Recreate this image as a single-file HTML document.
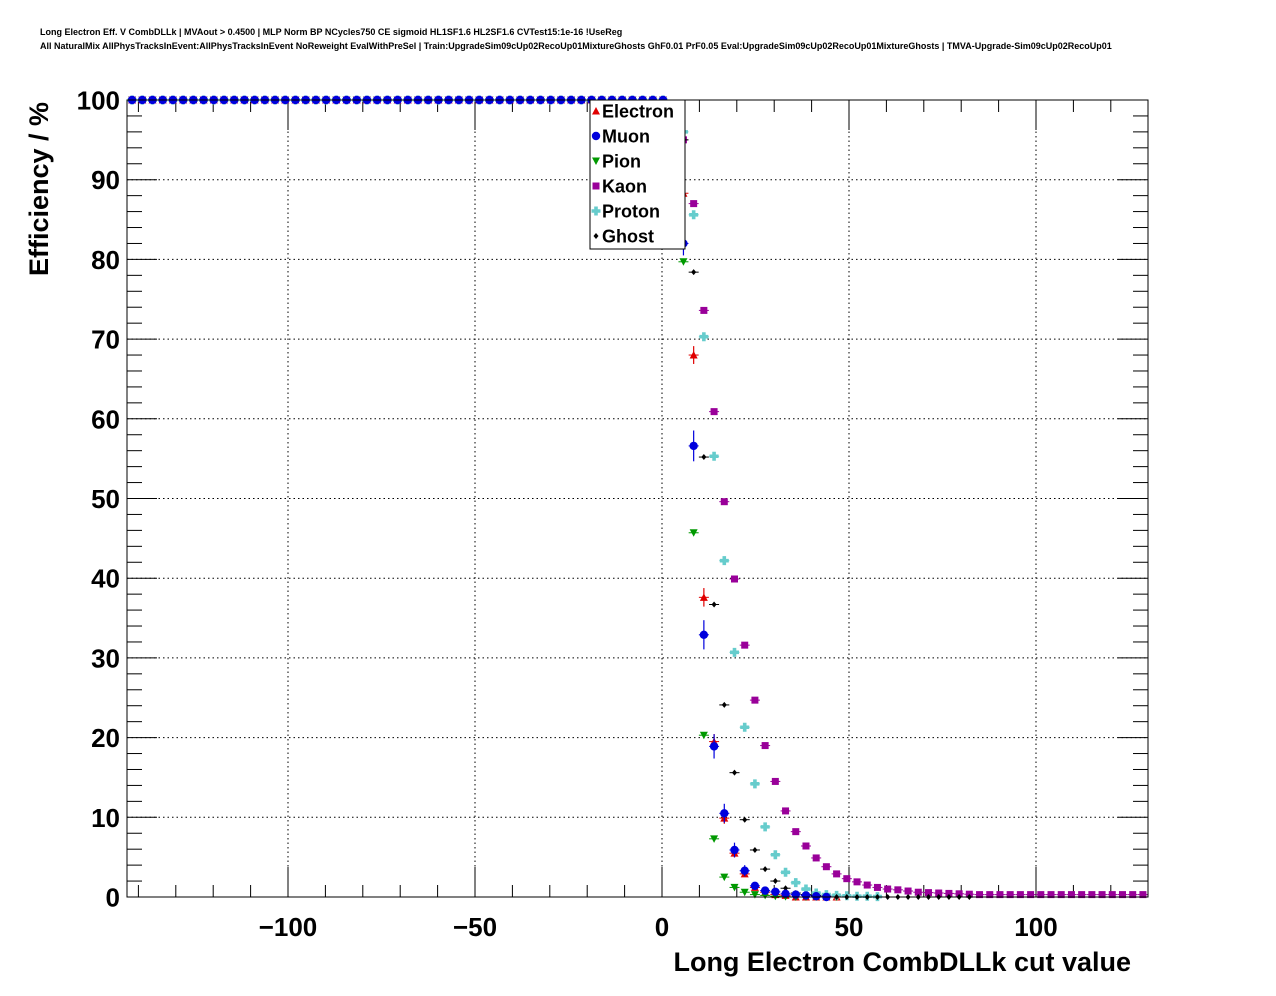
<!DOCTYPE html>
<html><head><meta charset="utf-8"><style>
html,body{margin:0;padding:0;background:#fff;}
svg{display:block;font-family:"Liberation Sans",Arial,sans-serif;}
</style></head><body>
<svg id="chart" width="1276" height="996" viewBox="0 0 1276 996">
<text x="40" y="35" font-size="9" font-weight="bold">Long Electron Eff. V CombDLLk | MVAout &gt; 0.4500 | MLP Norm BP NCycles750 CE sigmoid HL1SF1.6 HL2SF1.6 CVTest15:1e-16 !UseReg</text>
<text x="40" y="49" font-size="9" font-weight="bold">All NaturalMix AllPhysTracksInEvent:AllPhysTracksInEvent NoReweight EvalWithPreSel | Train:UpgradeSim09cUp02RecoUp01MixtureGhosts GhF0.01 PrF0.05 Eval:UpgradeSim09cUp02RecoUp01MixtureGhosts | TMVA-Upgrade-Sim09cUp02RecoUp01</text>
<rect x="127" y="100" width="1021" height="797" fill="#fff" stroke="none"/>
<g id="grid"></g>
<g id="axes"></g>
<g id="marks"></g>
<rect x="127" y="100" width="1021" height="797" fill="none" stroke="#000" stroke-width="1"/>
<text x="1131" y="971" font-size="27" font-weight="bold" text-anchor="end">Long Electron CombDLLk cut value</text>
<text transform="translate(48,189) rotate(-90)" font-size="27" font-weight="bold" text-anchor="middle">Efficiency / %</text>
<g id="legend"></g>
</svg>
<script>
// ---- data ----
var seriesNames = ["Electron","Muon","Pion","Kaon","Proton","Ghost"];
var binMin = -143.05, binWidth = 2.73;
var electronVals = [100,100,100,100,100,100,100,100,100,100,100,100,100,100,100,100,100,100,100,100,100,100,100,100,100,100,100,100,100,100,100,100,100,100,100,100,100,100,100,100,100,100,100,100,100,100,100,100,100,100,100,100,100,
 99.5,88.3,68.0,37.6,19.5,9.9,5.5,2.9,1.2,0.6,0.3,0.2,0,0,0,0,0];
var muonVals = [100,100,100,100,100,100,100,100,100,100,100,100,100,100,100,100,100,100,100,100,100,100,100,100,100,100,100,100,100,100,100,100,100,100,100,100,100,100,100,100,100,100,100,100,100,100,100,100,100,100,100,100,100,
 99.5,82,56.6,32.9,18.9,10.5,5.9,3.3,1.4,0.8,0.65,0.4,0.3,0.2,0.1,0];
var pionVals = [100,100,100,100,100,100,100,100,100,100,100,100,100,100,100,100,100,100,100,100,100,100,100,100,100,100,100,100,100,100,100,100,100,100,100,100,100,100,100,100,100,100,100,100,100,100,100,100,100,100,100,100,100,
 96,79.7,45.7,20.3,7.3,2.5,1.2,0.6,0.3,0.2,0.1,0.05,0,0,0,0,0];
var kaonVals = [100,100,100,100,100,100,100,100,100,100,100,100,100,100,100,100,100,100,100,100,100,100,100,100,100,100,100,100,100,100,100,100,100,100,100,100,100,100,100,100,100,100,100,100,100,100,100,100,100,100,100,100,100,
 99.5,95,87,73.6,60.9,49.6,39.9,31.6,24.7,19,14.5,10.8,8.2,6.4,4.9,3.8,2.9,2.3,1.9,1.5,1.2,1.0,0.9,0.75,0.6,0.55,0.5,0.45,0.4,0.35,
 0.3,0.3,0.3,0.3,0.3,0.3,0.3,0.3,0.3,0.3,0.3,0.3,0.3,0.3,0.3,0.3,0.3];
var protonVals = [100,100,100,100,100,100,100,100,100,100,100,100,100,100,100,100,100,100,100,100,100,100,100,100,100,100,100,100,100,100,100,100,100,100,100,100,100,100,100,100,100,100,100,100,100,100,100,100,100,100,100,100,100,
 99,96,85.6,70.3,55.3,42.2,30.7,21.3,14.2,8.8,5.3,3.1,1.8,1.0,0.5,0.3,0.2,0.15,0.1,0.1,0.05];
var ghostVals = [100,100,100,100,100,100,100,100,100,100,100,100,100,100,100,100,100,100,100,100,100,100,100,100,100,100,100,100,100,100,100,100,100,100,100,100,100,100,100,100,100,100,100,100,100,100,100,100,100,100,100,100,100,
 99,95,78.4,55.2,36.7,24.1,15.6,9.7,5.9,3.5,2.0,1.1,0.5,0.3,0.2,0.1,0,0,0,0,0,0,0,0,0,0,0,0,0,0];
var xTickLabels = ["\u2212100","\u221250","0","50","100"];
var xTickValues = [-100,-50,0,50,100];
var yTickValues = [0,10,20,30,40,50,60,70,80,90,100];

// ---- axes ----
var NS = "http://www.w3.org/2000/svg";
function X(v){ return 662 + 3.74*v; }
function Y(v){ return 897 - 7.97*v; }
function mk(tag, attrs, parent){ var e=document.createElementNS(NS,tag); for(var k in attrs) e.setAttribute(k,attrs[k]); parent.appendChild(e); return e; }
var grid=document.getElementById("grid"), axes=document.getElementById("axes"), marks=document.getElementById("marks"), legend=document.getElementById("legend");

xTickValues.forEach(function(v,i){
  var l=mk("line",{x1:X(v),x2:X(v),y1:100,y2:897,stroke:"#000","stroke-width":1,"stroke-dasharray":"1.5,3"},grid);
  
  
  var t=mk("text",{x:X(v),y:936,"font-size":26,"font-weight":"bold","text-anchor":"middle"},axes);
  t.textContent=xTickLabels[i];
  
  
});
yTickValues.forEach(function(v){
  if(v>0 && v<100){
    var l=mk("line",{x1:127,x2:1148,y1:Y(v),y2:Y(v),stroke:"#000","stroke-width":1,"stroke-dasharray":"1.5,3"},grid);
    
    
  }
  var t=mk("text",{x:120,y:Y(v)+9.5,"font-size":26,"font-weight":"bold","text-anchor":"end"},axes);
  t.textContent=String(v);
  
  
});
for(var xv=-140; xv<=120; xv+=10){
  var major = (xv%50===0);
  var len = major?30:12;
  var a=mk("line",{x1:X(xv),x2:X(xv),y1:897,y2:897-len,stroke:"#000","stroke-width":1},axes);
  
  
  var b=mk("line",{x1:X(xv),x2:X(xv),y1:100,y2:100+len,stroke:"#000","stroke-width":1},axes);
  
  
}
for(var yv=0; yv<=100; yv+=2){
  var maj=(yv%10===0), ln=maj?30:15;
  var c=mk("line",{x1:127,x2:127+ln,y1:Y(yv),y2:Y(yv),stroke:"#000","stroke-width":1},axes);
  
  
  var d=mk("line",{x1:1148,x2:1148-ln,y1:Y(yv),y2:Y(yv),stroke:"#000","stroke-width":1},axes);
  
  
}

// ---- markers ----
function marker(shape,cx,cy,color,parent){
  var e;
  if(shape==="tri-up") e=mk("polygon",{points:(cx-4)+","+(cy+3.5)+" "+(cx+4)+","+(cy+3.5)+" "+cx+","+(cy-4),fill:color},parent);
  else if(shape==="circle") e=mk("circle",{cx:cx,cy:cy,r:4.2,fill:color},parent);
  else if(shape==="tri-down") e=mk("polygon",{points:(cx-4)+","+(cy-3.5)+" "+(cx+4)+","+(cy-3.5)+" "+cx+","+(cy+4),fill:color},parent);
  else if(shape==="square") e=mk("rect",{x:cx-3.5,y:cy-3.5,width:7,height:7,fill:color},parent);
  else if(shape==="cross") e=mk("path",{d:"M"+(cx-1.8)+" "+(cy-4.5)+"h3.6v2.7h2.7v3.6h-2.7v2.7h-3.6v-2.7h-2.7v-3.6h2.7z",fill:color},parent);
  else e=mk("polygon",{points:cx+","+(cy-3)+" "+(cx+2.5)+","+cy+" "+cx+","+(cy+3)+" "+(cx-2.5)+","+cy,fill:color},parent);
  return e;
}
var shapes=["tri-up","circle","tri-down","square","cross","diamond"];
var colors=["#e00000","#0000dd","#009900","#990099","#66cccc","#000000"];
var errScale=[0.24,0.39,0.06,0.05,0.05,0.05];
var allVals=[electronVals,muonVals,pionVals,kaonVals,protonVals,ghostVals];
var drawOrder=[0,2,3,4,5,1];
drawOrder.forEach(function(s){
  var g=mk("g",{},marks);
  
  
  allVals[s].forEach(function(v,k){
    if(v===null||v===undefined) return;
    var xc=binMin+binWidth*(k+0.5);
    var cx=X(xc), cy=Y(v);
    var err=errScale[s]*Math.sqrt(Math.max(v*(100-v),0))/10;
    var h=mk("line",{x1:cx-5,x2:cx+5,y1:cy,y2:cy,stroke:colors[s],"stroke-width":1},g);
    
    
    if(v<100 && err*7.97>4){
      var vl=mk("line",{x1:cx,x2:cx,y1:Y(v+err),y2:Y(v-err),stroke:colors[s],"stroke-width":1.2},g);
      
      
    }
    var m=marker(shapes[s],cx,cy,colors[s],g);
    
    
  });
});

// ---- legend ----
var box=mk("rect",{x:590,y:100,width:95,height:149,fill:"#fff",stroke:"#000","stroke-width":1},legend);


seriesNames.forEach(function(n,i){
  var yy=111+25*i;
  var g=mk("g",{},legend);
  
  
  var m=marker(shapes[i],596,yy,colors[i],g);
  
  
  var t=mk("text",{x:602,y:yy+6.5,"font-size":18,"font-weight":"bold"},g);
  t.textContent=n;
  
  
});
</script>
</body></html>
